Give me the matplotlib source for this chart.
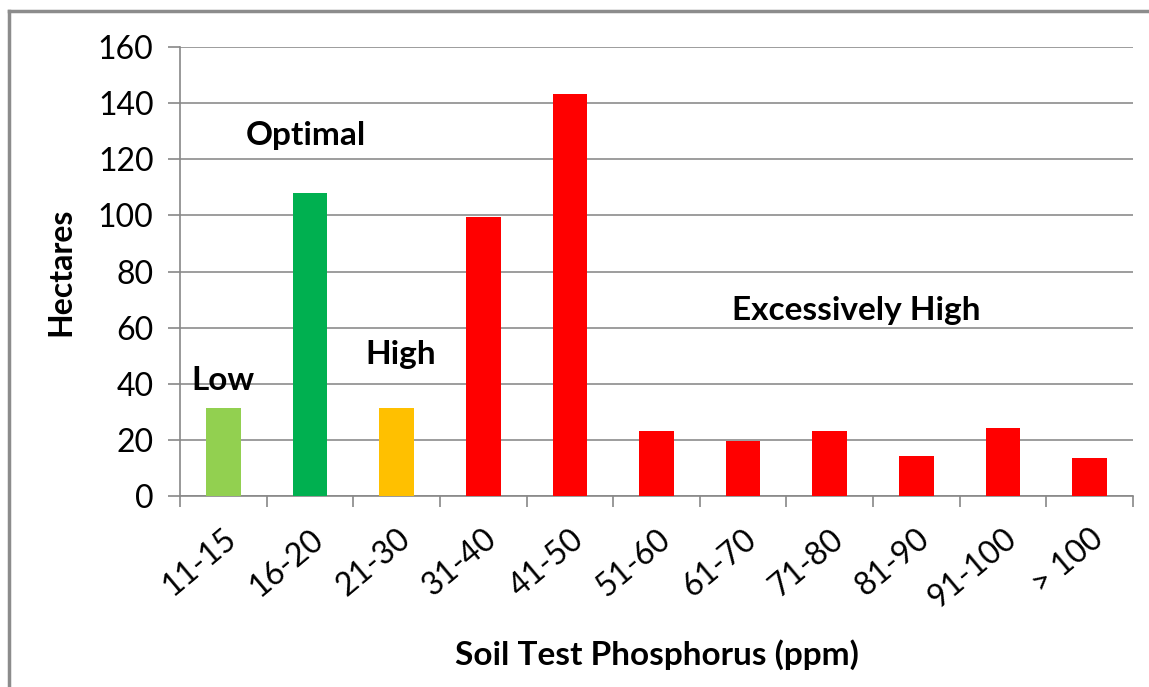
import matplotlib
matplotlib.use("Agg")
import matplotlib.pyplot as plt
from matplotlib.lines import Line2D

# data
ranges = ["11-15", "16-20", "21-30", "31-40", "41-50", "51-60",
          "61-70", "71-80", "81-90", "91-100", "> 100"]
hectares = [31.3, 107.8, 31.3, 99.5, 143.2, 23.3, 19.7, 23.3, 14.3, 24.3, 13.7]
bar_colors = ["#92D050", "#00B050", "#FFC000"] + ["#FF0000"] * 8

zone_names = ["Low", "Optimal", "High", "Excessively High"]
zone_x = [0.0, 0.95, 2.05, 7.3]
zone_y = [41, 128.5, 50.5, 66]

plt.rcParams["font.family"] = ["Lato", "DejaVu Sans"]

fig = plt.figure(figsize=(11.49, 6.87), dpi=100)
ax = fig.add_axes([180 / 1149, 1 - 496 / 687, (1133 - 180) / 1149, (496 - 47) / 687])

x = list(range(len(ranges)))
ax.bar(x, hectares, width=0.4, color=bar_colors, zorder=3)

ax.set_xlim(-0.5, len(ranges) - 0.5)
ax.set_ylim(0, 160)
ax.set_yticks(range(0, 161, 20))
ax.tick_params(axis="y", labelsize=23, length=9, color="#888888", width=1.2, pad=10)
ax.grid(axis="y", color="#8c8c8c", linewidth=1.2, zorder=0)

# category labels at centres, tick marks at the boundaries (Excel style)
ax.set_xticks(x)
ax.set_xticklabels(ranges, rotation=40, ha="right", rotation_mode="anchor", fontsize=23)
ax.tick_params(axis="x", which="major", length=0, pad=20)
ax.set_xticks([i - 0.5 for i in range(len(ranges) + 1)], minor=True)
ax.tick_params(axis="x", which="minor", length=8, color="#888888", width=1.2)

for side in ["top", "right"]:
    ax.spines[side].set_visible(False)
for side in ["left", "bottom"]:
    ax.spines[side].set_color("#888888")
    ax.spines[side].set_linewidth(1.2)

ax.set_ylabel("Hectares", fontsize=23, fontweight="bold", labelpad=16)
ax.set_xlabel("Soil Test Phosphorus (ppm)", fontsize=24, fontweight="bold", labelpad=18)

for name, zx, zy in zip(zone_names, zone_x, zone_y):
    ax.text(zx, zy, name, ha="center", va="center", fontsize=24, fontweight="bold")

# chart frame, only left and top edges fall inside the picture
fig.add_artist(Line2D([9 / 1149, 9 / 1149], [0, 1 - 11 / 687], color="#8c8c8c", lw=2.5))
fig.add_artist(Line2D([9 / 1149, 1], [1 - 11 / 687, 1 - 11 / 687], color="#8c8c8c", lw=2.5))

fig.savefig("out.png", dpi=100)
